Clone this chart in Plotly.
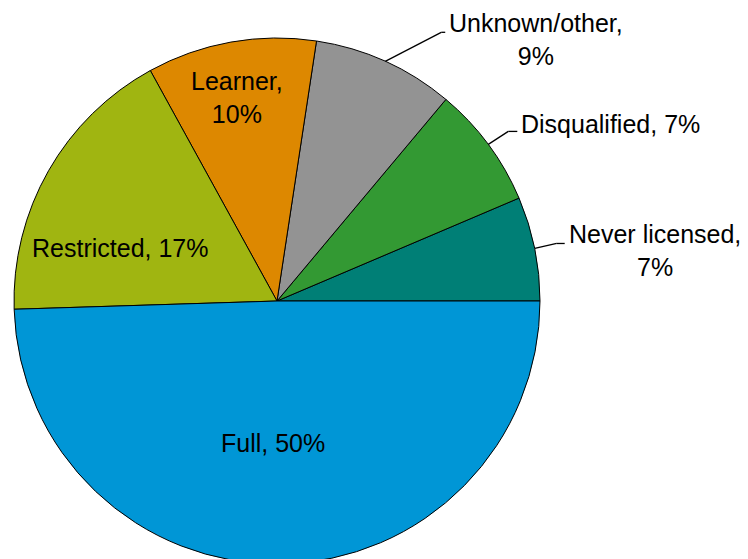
import math
import plotly.graph_objects as go

# data
labels = ["Never licensed", "Disqualified", "Unknown/other", "Learner", "Restricted", "Full"]
values = [6.4, 7.5, 8.7, 10.4, 17.5, 49.5]
pct_text = ["7%", "7%", "9%", "10%", "17%", "50%"]
colors = ["#007f76", "#339933", "#939393", "#dd8800", "#a0b511", "#0096d6"]

# label styling: line break after name, inside/outside placement
two_line = [True, False, True, True, False, False]
# outside labels: (elbow dx, elbow dy, horizontal run, text dy) in px
outside = {0: (22, -5, 8, 7), 1: (20, -13, 9, -7), 2: (56, -29, 4, 7)}
# inside labels: (angle offset from slice middle, radius fraction)
inside = {3: (1, 0.79), 4: (11, 0.63), 5: (-2.6, 0.54)}

W, H = 748, 559
OFF = 8  # page margin around the plot div
cx, cy, R = 277 - OFF, 301 - OFF, 263
FONT = dict(family="Liberation Sans, Arial, sans-serif", size=25, color="#000000")


def px(x, y):
    return x / W, 1 - y / H


total = sum(values)

fig = go.Figure(go.Pie(
    labels=labels, values=values, sort=False,
    direction="counterclockwise", rotation=90 - 360 * values[0] / total,
    marker=dict(colors=colors, line=dict(color="#000000", width=1)),
    textinfo="none", hoverinfo="label+percent",
    domain=dict(x=[(cx - R) / W, (cx + R) / W], y=[1 - (cy + R) / H, 1 - (cy - R) / H]),
))

cum = 0
for i, v in enumerate(values):
    mid = 360 * (cum + v / 2) / total
    cum += v
    sep = "<br>" if two_line[i] else " "
    text = labels[i] + "," + sep + pct_text[i]
    if i in outside:
        dx, dy, run, tdy = outside[i]
        a = math.radians(mid)
        x0, y0 = cx + R * math.cos(a), cy - R * math.sin(a)
        x1, y1 = x0 + dx, y0 + dy
        x2 = x1 + run
        for (xa, ya), (xb, yb) in [((x0, y0), (x1, y1)), ((x1, y1), (x2, y1))]:
            p0, p1 = px(xa, ya), px(xb, yb)
            fig.add_shape(type="line", xref="paper", yref="paper",
                          x0=p0[0], y0=p0[1], x1=p1[0], y1=p1[1],
                          line=dict(color="#000000", width=1.3))
        tx, ty = px(x2 + 2, y1 + tdy)
        fig.add_annotation(x=tx, y=ty, xref="paper", yref="paper", text=text,
                           showarrow=False, xanchor="left", yanchor="middle",
                           align="center", font=FONT)
    else:
        da, rf = inside[i]
        a = math.radians(mid + da)
        tx, ty = px(cx + rf * R * math.cos(a), cy - rf * R * math.sin(a))
        fig.add_annotation(x=tx, y=ty, xref="paper", yref="paper", text=text,
                           showarrow=False, xanchor="center", yanchor="middle",
                           align="center", font=FONT)

fig.update_layout(
    width=W, height=H, showlegend=False,
    margin=dict(l=0, r=0, t=0, b=0),
    paper_bgcolor="#ffffff", plot_bgcolor="#ffffff",
    font=FONT,
)

fig.write_html("out.html")
